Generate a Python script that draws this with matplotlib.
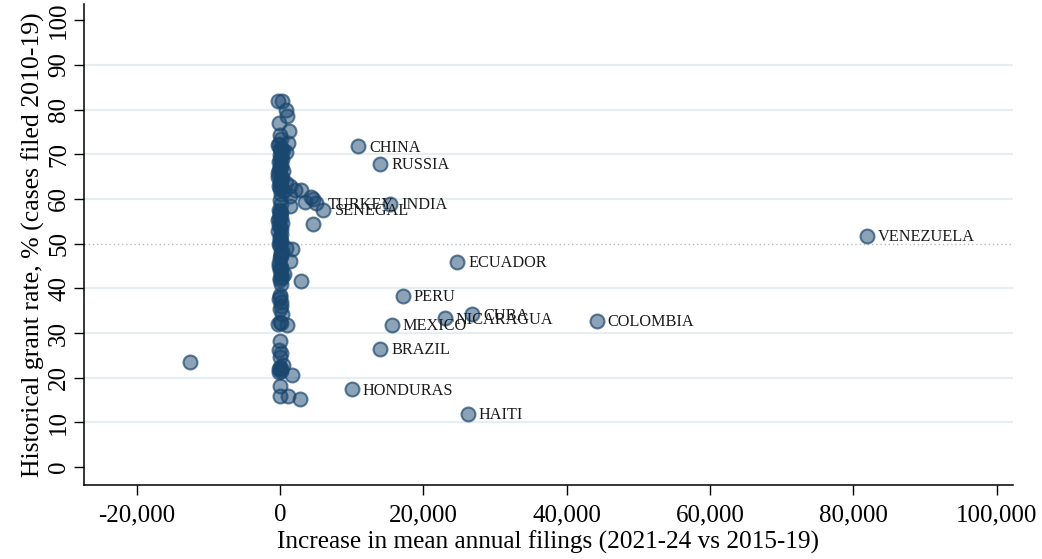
import numpy as np
import matplotlib
matplotlib.use("Agg")
import matplotlib.pyplot as plt

plt.rcParams['font.family'] = ['Liberation Serif', 'DejaVu Serif']

# labelled countries: filings increase, historical grant rate
countries = ["CHINA", "RUSSIA", "INDIA", "TURKEY", "SENEGAL", "VENEZUELA", "ECUADOR",
             "PERU", "CUBA", "NICARAGUA", "MEXICO", "COLOMBIA", "BRAZIL", "HONDURAS", "HAITI"]
lab_x = [10900, 13950, 15350, 5100, 6050, 81900, 24700,
         17150, 26800, 23000, 15600, 44200, 13950, 10000, 26200]
lab_y = [71.8, 67.8, 58.9, 59.0, 57.6, 51.7, 45.9,
         38.3, 34.2, 33.3, 31.8, 32.7, 26.4, 17.4, 11.9]

# remaining (unlabelled) countries
other_x = [-12550,
           -300, 300, 800, 950, -100, 1200, 0, 200, 1100, -200, 100, 400, 900, 0, 300,
           -100, 200, 0, 500, -200, 100, 300, 0, 800, -100, 200, 1400, 2100, 3000, 600,
           4400, 1400, 3500, 4650, 0, 1400, -100, 200, 0, 100, -200, 300, 4650, 0, -300,
           100, 0, 200, -100, 0, 1700, 900, 300, 100, 1400, 0, -100, 200, 0, 100, 600,
           300, 0, 3000, 200, 0, -100, 100, 0, 300, -200, 100, 1000, 0, -100, 100, 0,
           400, -100, 100, 200, 1700, 0, 0, 1100, 2800,
           -100, 100, 0, 200, -200, 0, 100, 0, -100, 200, 0, 100, -100, 0, 200, 0,
           0, 100, -100, 200, 0, 100, 0, -100, 0, 100, 200, 0, 0, -100]
other_y = [23.5,
           81.8, 81.8, 79.9, 78.5, 76.9, 75.1, 74.3, 73.5, 72.6, 72.0, 71.5, 71.0, 70.4, 69.8, 69.0,
           68.3, 67.6, 66.9, 66.2, 65.7, 65.2, 64.6, 64.0, 63.5, 63.0, 62.6, 62.8, 62.0, 62.1, 61.8,
           60.5, 60.6, 59.4, 59.9, 59.8, 58.4, 57.6, 57.0, 56.4, 55.8, 55.2, 54.6, 54.3, 53.8, 52.8,
           52.2, 51.4, 50.6, 50.0, 49.4, 48.8, 49.0, 48.4, 47.6, 46.2, 46.8, 45.6, 44.8, 44.0, 43.3, 43.2,
           42.5, 41.8, 41.7, 41.0, 38.0, 37.6, 36.0, 35.4, 34.2, 32.1, 32.2, 31.8, 28.3, 26.2, 25.6, 24.7,
           22.8, 22.0, 21.5, 21.9, 20.5, 18.1, 16.0, 15.8, 15.2,
           72.3, 70.8, 68.7, 67.1, 65.0, 63.3, 61.0, 57.3, 55.5, 53.2, 51.0, 47.2, 45.0, 42.2, 37.0, 32.5,
           71.2, 69.4, 66.5, 64.3, 62.2, 58.9, 56.8, 54.1, 50.3, 48.0, 44.4, 38.4, 22.3, 21.2]

x_ticks = [-20000, 0, 20000, 40000, 60000, 80000, 100000]
y_ticks = [0, 10, 20, 30, 40, 50, 60, 70, 80, 90, 100]
grid_levels = [10, 20, 30, 40, 60, 70, 80, 90]

navy = (0.102, 0.278, 0.435)

fig = plt.figure(figsize=(10.42, 5.59), dpi=100)
ax = fig.add_axes([0.0806, 0.1324, 0.8914, 0.8604])

for g in grid_levels:
    ax.axhline(g, color='#e6eef1', lw=1.6, zorder=0)
ax.axhline(50, color='#b4bcc0', lw=1.0, ls=(0, (1, 2)), zorder=0)

all_x = other_x + lab_x
all_y = other_y + lab_y
ax.scatter(all_x, all_y, s=100, facecolor=navy + (0.5,), edgecolor=navy + (0.7,),
           linewidths=1.5, zorder=2)

for name, x, y in zip(countries, lab_x, lab_y):
    ax.annotate(name, (x, y), xytext=(8, -1), textcoords='offset points',
                va='center', ha='left', fontsize=11.7, color='#1a1a1a', zorder=3)

ax.set_xlim(-27330, 102240)
ax.set_ylim(-4, 103.6)

ax.set_xticks(x_ticks)
ax.set_xticklabels([f"{v:,}" for v in x_ticks])
ax.set_yticks(y_ticks)
ax.set_yticklabels([str(v) for v in y_ticks], rotation=90, va='center')

ax.tick_params(axis='both', direction='out', length=7, width=1, labelsize=18, color='black')
ax.tick_params(axis='x', pad=7)
ax.tick_params(axis='y', pad=3)

for side in ['top', 'right']:
    ax.spines[side].set_visible(False)
for side in ['left', 'bottom']:
    ax.spines[side].set_linewidth(1.1)

ax.set_xlabel("Increase in mean annual filings (2021-24 vs 2015-19)", fontsize=18.2, labelpad=3)
ax.set_ylabel("Historical grant rate, % (cases filed 2010-19)", fontsize=18.5, labelpad=2)

fig.savefig("out.png", dpi=100)
